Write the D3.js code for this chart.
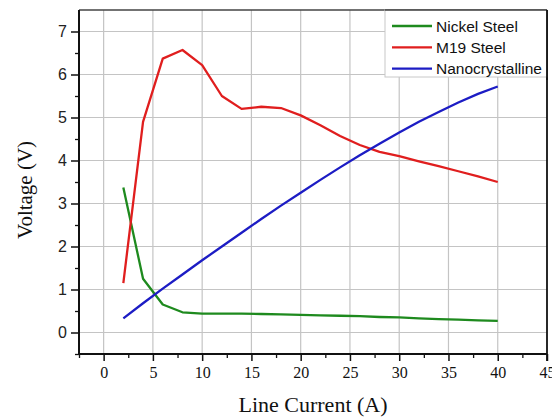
<!DOCTYPE html>
<html><head><meta charset="utf-8">
<script src="https://cdn.jsdelivr.net/npm/d3@7"></script>
<style>body{margin:0;background:#fff}svg{display:block}</style>
</head><body>
<svg id="chart" width="552" height="419"></svg>
<script>
const current = [2,4,6,8,10,12,14,16,18,20,22,24,26,28,30,32,34,36,38,40];
const nickelSteel = [3.37,1.25,0.65,0.47,0.44,0.44,0.44,0.43,0.42,0.41,0.40,0.39,0.38,0.36,0.35,0.33,0.31,0.30,0.28,0.27];
const m19Steel = [1.15,4.9,6.37,6.57,6.22,5.5,5.2,5.25,5.22,5.05,4.82,4.57,4.36,4.2,4.1,3.98,3.87,3.75,3.63,3.5];
const nanocrystalline = [0.33,0.68,1.02,1.35,1.68,2.0,2.32,2.64,2.95,3.25,3.55,3.84,4.12,4.39,4.65,4.9,5.13,5.35,5.55,5.72];
const seriesNames = ["Nickel Steel","M19 Steel","Nanocrystalline"];
const seriesColors = ["#1e8a1e","#e01e1e","#1c1cc4"];
const xTicks = [0,5,10,15,20,25,30,35,40,45];
const yTicks = [0,1,2,3,4,5,6,7];

const svg = d3.select("#chart");
const L = 79, R = 547, T = 10, B = 354;
const x = d3.scaleLinear().domain([-2.5,45]).range([L,R]);
const y = d3.scaleLinear().domain([-0.5,7.5]).range([B,T]);

// grid
const g = svg.append("g");
g.selectAll(".vg").data(xTicks.filter(t=>t<45)).enter().append("line")
  .attr("x1",d=>x(d)).attr("x2",d=>x(d)).attr("y1",T).attr("y2",B)
  .attr("stroke","#c4c4c4").attr("stroke-width",1.2);
g.selectAll(".hg").data(yTicks).enter().append("line")
  .attr("x1",L).attr("x2",R).attr("y1",d=>y(d)).attr("y2",d=>y(d))
  .attr("stroke","#c4c4c4").attr("stroke-width",1.2);

// lines
const allSeries = [nickelSteel, m19Steel, nanocrystalline];
const line = d3.line().x((d,i)=>x(current[i])).y(d=>y(d));
allSeries.forEach((s,k)=>{
  svg.append("path").datum(s).attr("d",line).attr("fill","none")
    .attr("stroke",seriesColors[k]).attr("stroke-width",2.3).attr("stroke-linejoin","round");
});

// axes
const xAxis = d3.axisBottom(x).tickValues(xTicks).tickSize(7).tickPadding(6).tickFormat(d3.format("d"));
const xMinor = d3.axisBottom(x).tickValues(d3.range(-2.5,45,5)).tickSize(4).tickFormat("");
const gx = svg.append("g").attr("transform",`translate(0,${B})`).call(xAxis);
const gxm = svg.append("g").attr("transform",`translate(0,${B})`).call(xMinor);
gx.select(".domain").remove(); gxm.select(".domain").remove();
gx.selectAll("text").attr("font-family","'Liberation Serif','Times New Roman',serif").attr("font-size",16).attr("fill","#111");
gx.selectAll("line").attr("stroke","#111").attr("stroke-width",1.5);
gxm.selectAll("line").attr("stroke","#111").attr("stroke-width",1.3);

const yAxis = d3.axisLeft(y).tickValues(yTicks).tickSize(8).tickPadding(4).tickFormat(d3.format("d"));
const yMinor = d3.axisLeft(y).tickValues(d3.range(-0.5,7.5,1)).tickSize(4).tickFormat("");
const gy = svg.append("g").attr("transform",`translate(${L},0)`).call(yAxis);
const gym = svg.append("g").attr("transform",`translate(${L},0)`).call(yMinor);
gy.select(".domain").remove(); gym.select(".domain").remove();
gy.selectAll("text").attr("font-family","'Liberation Sans',Arial,sans-serif").attr("font-size",16).attr("fill","#222");
gy.selectAll("line").attr("stroke","#111").attr("stroke-width",1.5);
gym.selectAll("line").attr("stroke","#111").attr("stroke-width",1.3);

// frame
svg.append("line").attr("x1",L).attr("x2",R).attr("y1",T).attr("y2",T).attr("stroke","#444").attr("stroke-width",1.5);
svg.append("line").attr("x1",R).attr("x2",R).attr("y1",T).attr("y2",B+7).attr("stroke","#111").attr("stroke-width",1.8);
svg.append("line").attr("x1",L).attr("x2",L).attr("y1",T).attr("y2",B+1).attr("stroke","#111").attr("stroke-width",2);
svg.append("line").attr("x1",L-1).attr("x2",R).attr("y1",B).attr("y2",B).attr("stroke","#111").attr("stroke-width",2);

// titles
svg.append("text").attr("x",(L+R)/2).attr("y",412).attr("text-anchor","middle")
  .attr("font-family","'Liberation Serif','Times New Roman',serif").attr("font-size",22).attr("fill","#111")
  .text("Line Current (A)");
svg.append("text").attr("transform",`translate(32,190) rotate(-90)`).attr("text-anchor","middle")
  .attr("font-family","'Liberation Serif','Times New Roman',serif").attr("font-size",21).attr("fill","#111")
  .text("Voltage (V)");

// legend
const lg = svg.append("g");
lg.append("rect").attr("x",385).attr("y",T).attr("width",R-385).attr("height",67)
  .attr("fill","#fff").attr("stroke","#c8c8c8").attr("stroke-width",1);
seriesNames.forEach((n,k)=>{
  const cy = 26 + k*21.3;
  lg.append("line").attr("x1",392).attr("x2",432).attr("y1",cy).attr("y2",cy)
    .attr("stroke",seriesColors[k]).attr("stroke-width",2.3);
  lg.append("text").attr("x",436).attr("y",cy+5.5)
    .attr("font-family","'Liberation Sans',Arial,sans-serif").attr("font-size",15.5).attr("fill","#111").text(n);
});
// redraw frame top/right over legend
svg.append("line").attr("x1",385).attr("x2",R).attr("y1",T).attr("y2",T).attr("stroke","#444").attr("stroke-width",1.5);
svg.append("line").attr("x1",R).attr("x2",R).attr("y1",T).attr("y2",80).attr("stroke","#111").attr("stroke-width",1.8);
</script>
</body></html>
